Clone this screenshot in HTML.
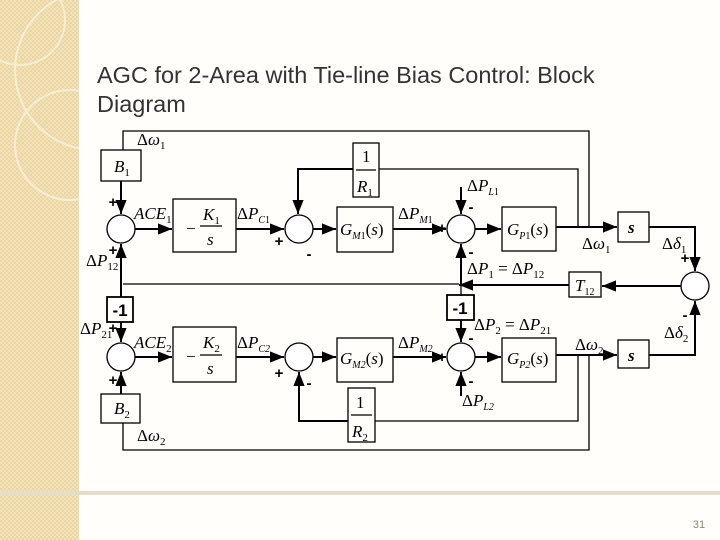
<!DOCTYPE html>
<html><head><meta charset="utf-8"><style>
html,body{margin:0;padding:0;width:720px;height:540px;overflow:hidden;background:#fffefb}
</style></head><body>
<svg width="720" height="540" xmlns="http://www.w3.org/2000/svg" style="position:absolute;left:0;top:0">
<defs>
<pattern id="chk" width="4" height="4" patternUnits="userSpaceOnUse"><rect width="4" height="4" fill="#f2e2b8"/><rect width="2" height="2" fill="#ead6a4"/><rect x="2" y="2" width="2" height="2" fill="#ead6a4"/></pattern>
<marker id="a" viewBox="0 0 10 10" refX="10" refY="5" markerWidth="7" markerHeight="7" orient="auto"><path d="M0,1 L10,5 L0,9 Z" fill="#000"/></marker>
<clipPath id="strip"><rect x="0" y="0" width="79" height="540"/></clipPath>
</defs>
<rect x="0" y="0" width="79" height="540" fill="url(#chk)"/>
<g fill="none" stroke="#fbf3de" stroke-width="2" opacity="0.8" clip-path="url(#strip)">
<circle cx="20" cy="20" r="45"/><circle cx="95" cy="70" r="80"/><circle cx="70" cy="145" r="55"/>
</g>
<rect x="0" y="491" width="720" height="4" fill="#e4ddca"/>
<text x="699" y="528" font-family="Liberation Sans, sans-serif" font-size="11" fill="#8a8a7a" text-anchor="middle">31</text>
<text x="97" y="83" font-family="Liberation Sans, sans-serif" font-size="23.5" fill="#333">AGC for 2-Area with Tie-line Bias Control: Block</text>
<text x="97" y="112" font-family="Liberation Sans, sans-serif" font-size="23.5" fill="#333">Diagram</text>

<g stroke="#000" stroke-width="1.3" fill="none">
<polyline points="123,150 123,131 589,131 589,227"/>
<line x1="121" y1="229" x2="172" y2="229" marker-end="url(#a)" stroke-width="2"/>
<line x1="236" y1="229" x2="284" y2="229" marker-end="url(#a)" stroke-width="2"/>
<line x1="313" y1="229" x2="336" y2="229" marker-end="url(#a)" stroke-width="2"/>
<line x1="393" y1="229" x2="446" y2="229" marker-end="url(#a)" stroke-width="2"/>
<line x1="475" y1="229" x2="501" y2="229" marker-end="url(#a)" stroke-width="2"/>
<line x1="556" y1="227" x2="617" y2="227" marker-end="url(#a)" stroke-width="2"/>
<line x1="121" y1="181" x2="121" y2="214" marker-end="url(#a)" stroke-width="2"/>
<polyline points="578,227 578,169 379,169"/>
<polyline points="353,169 298,169 298,214" marker-end="url(#a)" stroke-width="2"/>
<line x1="461" y1="187" x2="461" y2="214" marker-end="url(#a)" stroke-width="2"/>
<polyline points="649,227 695,227 695,271" marker-end="url(#a)" stroke-width="2"/>
<line x1="681" y1="286" x2="602" y2="286" marker-end="url(#a)" stroke-width="2"/>
<line x1="569" y1="285" x2="459" y2="285" marker-end="url(#a)" stroke-width="2"/>
<line x1="459" y1="284" x2="123" y2="284"/>
<line x1="461" y1="284" x2="461" y2="244" marker-end="url(#a)" stroke-width="2"/>
<line x1="121" y1="297" x2="121" y2="244" marker-end="url(#a)" stroke-width="2"/>
<line x1="461" y1="284" x2="461" y2="296"/>
<line x1="121" y1="322" x2="121" y2="342" marker-end="url(#a)" stroke-width="2"/>
<line x1="461" y1="320" x2="461" y2="342" marker-end="url(#a)" stroke-width="2"/>
<line x1="121" y1="357" x2="172" y2="357" marker-end="url(#a)" stroke-width="2"/>
<line x1="236" y1="357" x2="284" y2="357" marker-end="url(#a)" stroke-width="2"/>
<line x1="313" y1="357" x2="336" y2="357" marker-end="url(#a)" stroke-width="2"/>
<line x1="393" y1="357" x2="446" y2="357" marker-end="url(#a)" stroke-width="2"/>
<line x1="475" y1="357" x2="501" y2="357" marker-end="url(#a)" stroke-width="2"/>
<line x1="556" y1="355" x2="617" y2="355" marker-end="url(#a)" stroke-width="2"/>
<line x1="461" y1="396" x2="461" y2="372" marker-end="url(#a)" stroke-width="2"/>
<polyline points="578,355 578,421 375,421"/>
<polyline points="348,421 299,421 299,372" marker-end="url(#a)" stroke-width="2"/>
<polyline points="649,355 695,355 695,301" marker-end="url(#a)" stroke-width="2"/>
<line x1="121" y1="394" x2="121" y2="372" marker-end="url(#a)" stroke-width="2"/>
<polyline points="123,423 123,450 589,450 589,355"/>
<rect x="101" y="150" width="40" height="31"/>
<rect x="173" y="199" width="63" height="53"/>
<rect x="353" y="143" width="26" height="54"/>
<rect x="337" y="207" width="56" height="45"/>
<rect x="502" y="207" width="54" height="44"/>
<rect x="618" y="212" width="31" height="30"/>
<rect x="569" y="272" width="32" height="25"/>
<rect x="107" y="297" width="26" height="25" stroke-width="1.8"/>
<rect x="447" y="295" width="27" height="25" stroke-width="1.8"/>
<rect x="173" y="327" width="63" height="55"/>
<rect x="337" y="338" width="56" height="44"/>
<rect x="502" y="338" width="54" height="44"/>
<rect x="618" y="340" width="31" height="28"/>
<rect x="348" y="388" width="27" height="54"/>
<rect x="101" y="394" width="39" height="29"/>
<circle cx="121" cy="229" r="14" fill="#fff"/>
<circle cx="299" cy="229" r="14" fill="#fff"/>
<circle cx="461" cy="229" r="14" fill="#fff"/>
<circle cx="695" cy="286" r="14" fill="#fff"/>
<circle cx="121" cy="357" r="14" fill="#fff"/>
<circle cx="299" cy="357" r="14" fill="#fff"/>
<circle cx="461" cy="357" r="14" fill="#fff"/>
<line x1="356" y1="170" x2="376" y2="170"/>
<line x1="351" y1="415" x2="372" y2="415"/>
<line x1="200" y1="226" x2="222" y2="226"/>
<line x1="200" y1="355" x2="222" y2="355"/>
</g>

<g font-family="Liberation Sans, sans-serif" font-weight="bold" font-size="15" fill="#000" text-anchor="middle">
<text x="113" y="207">+</text><text x="113" y="255">+</text>
<text x="279" y="246">+</text><text x="309" y="259">-</text>
<text x="442" y="233">+</text><text x="471" y="212">-</text><text x="471" y="257">-</text>
<text x="685" y="263">+</text><text x="685" y="320">-</text>
<text x="113" y="333">+</text><text x="113" y="385">+</text>
<text x="279" y="378">+</text><text x="309" y="388">-</text>
<text x="442" y="362">+</text><text x="471" y="343">-</text><text x="471" y="386">-</text>
<text x="120" y="316" font-size="17">-1</text>
<text x="460" y="314" font-size="17">-1</text>
</g>

<g font-family="Liberation Serif, serif" font-size="17" fill="#000">
<text x="137" y="145">Δ<tspan font-style="italic">ω</tspan><tspan font-size="11" dy="4">1</tspan></text>
<text x="114" y="172" font-style="italic">B<tspan font-size="11" dy="4" font-style="normal">1</tspan></text>
<text x="134" y="219" font-style="italic">ACE<tspan font-size="11" dy="4" font-style="normal">1</tspan></text>
<text x="86" y="266">Δ<tspan font-style="italic">P</tspan><tspan font-size="11" dy="4">12</tspan></text>
<text x="186" y="234">−</text>
<text x="203" y="220" font-style="italic">K<tspan font-size="11" dy="4" font-style="normal">1</tspan></text>
<text x="207" y="245" font-style="italic">s</text>
<text x="237" y="219">Δ<tspan font-style="italic">P</tspan><tspan font-size="10" dy="4" font-style="italic">C</tspan><tspan font-size="10">1</tspan></text>
<text x="362" y="162">1</text>
<text x="357" y="192" font-style="italic">R<tspan font-size="11" dy="4" font-style="normal">1</tspan></text>
<text x="340" y="235" font-style="italic">G<tspan font-size="10" dy="4">M</tspan><tspan font-size="10" font-style="normal">1</tspan><tspan dy="-4" font-style="normal">(</tspan>s<tspan font-style="normal">)</tspan></text>
<text x="398" y="219">Δ<tspan font-style="italic">P</tspan><tspan font-size="10" dy="4" font-style="italic">M</tspan><tspan font-size="10">1</tspan></text>
<text x="467" y="191">Δ<tspan font-style="italic">P</tspan><tspan font-size="10" dy="4" font-style="italic">L</tspan><tspan font-size="10">1</tspan></text>
<text x="507" y="235" font-style="italic">G<tspan font-size="10" dy="4">P</tspan><tspan font-size="10" font-style="normal">1</tspan><tspan dy="-4" font-style="normal">(</tspan>s<tspan font-style="normal">)</tspan></text>
<text x="628" y="233" font-style="italic" font-weight="bold">s</text>
<text x="582" y="249">Δ<tspan font-style="italic">ω</tspan><tspan font-size="11" dy="4">1</tspan></text>
<text x="662" y="249">Δ<tspan font-style="italic">δ</tspan><tspan font-size="11" dy="4">1</tspan></text>
<text x="467" y="274">Δ<tspan font-style="italic">P</tspan><tspan font-size="11" dy="4">1</tspan><tspan dy="-4"> = Δ</tspan><tspan font-style="italic">P</tspan><tspan font-size="11" dy="4">12</tspan></text>
<text x="575" y="291" font-style="italic">T<tspan font-size="10" dy="4" font-style="normal">12</tspan></text>
<text x="474" y="330">Δ<tspan font-style="italic">P</tspan><tspan font-size="11" dy="4">2</tspan><tspan dy="-4"> = Δ</tspan><tspan font-style="italic">P</tspan><tspan font-size="11" dy="4">21</tspan></text>
<text x="80" y="334">Δ<tspan font-style="italic">P</tspan><tspan font-size="11" dy="4">21</tspan></text>
<text x="134" y="348" font-style="italic">ACE<tspan font-size="11" dy="4" font-style="normal">2</tspan></text>
<text x="186" y="362">−</text>
<text x="203" y="348" font-style="italic">K<tspan font-size="11" dy="4" font-style="normal">2</tspan></text>
<text x="207" y="374" font-style="italic">s</text>
<text x="237" y="348">Δ<tspan font-style="italic">P</tspan><tspan font-size="10" dy="4" font-style="italic">C2</tspan></text>
<text x="340" y="364" font-style="italic">G<tspan font-size="10" dy="4">M2</tspan><tspan dy="-4" font-style="normal">(</tspan>s<tspan font-style="normal">)</tspan></text>
<text x="398" y="348">Δ<tspan font-style="italic">P</tspan><tspan font-size="10" dy="4" font-style="italic">M2</tspan></text>
<text x="507" y="364" font-style="italic">G<tspan font-size="10" dy="4">P2</tspan><tspan dy="-4" font-style="normal">(</tspan>s<tspan font-style="normal">)</tspan></text>
<text x="628" y="361" font-style="italic" font-weight="bold">s</text>
<text x="575" y="350">Δ<tspan font-style="italic">ω</tspan><tspan font-size="11" dy="4">2</tspan></text>
<text x="664" y="338">Δ<tspan font-style="italic">δ</tspan><tspan font-size="11" dy="4">2</tspan></text>
<text x="462" y="406">Δ<tspan font-style="italic">P</tspan><tspan font-size="10" dy="4" font-style="italic">L2</tspan></text>
<text x="356" y="408">1</text>
<text x="352" y="437" font-style="italic">R<tspan font-size="11" dy="4" font-style="normal">2</tspan></text>
<text x="114" y="414" font-style="italic">B<tspan font-size="11" dy="4" font-style="normal">2</tspan></text>
<text x="137" y="441">Δ<tspan font-style="italic">ω</tspan><tspan font-size="11" dy="4">2</tspan></text>
</g>
</svg>
</body></html>
